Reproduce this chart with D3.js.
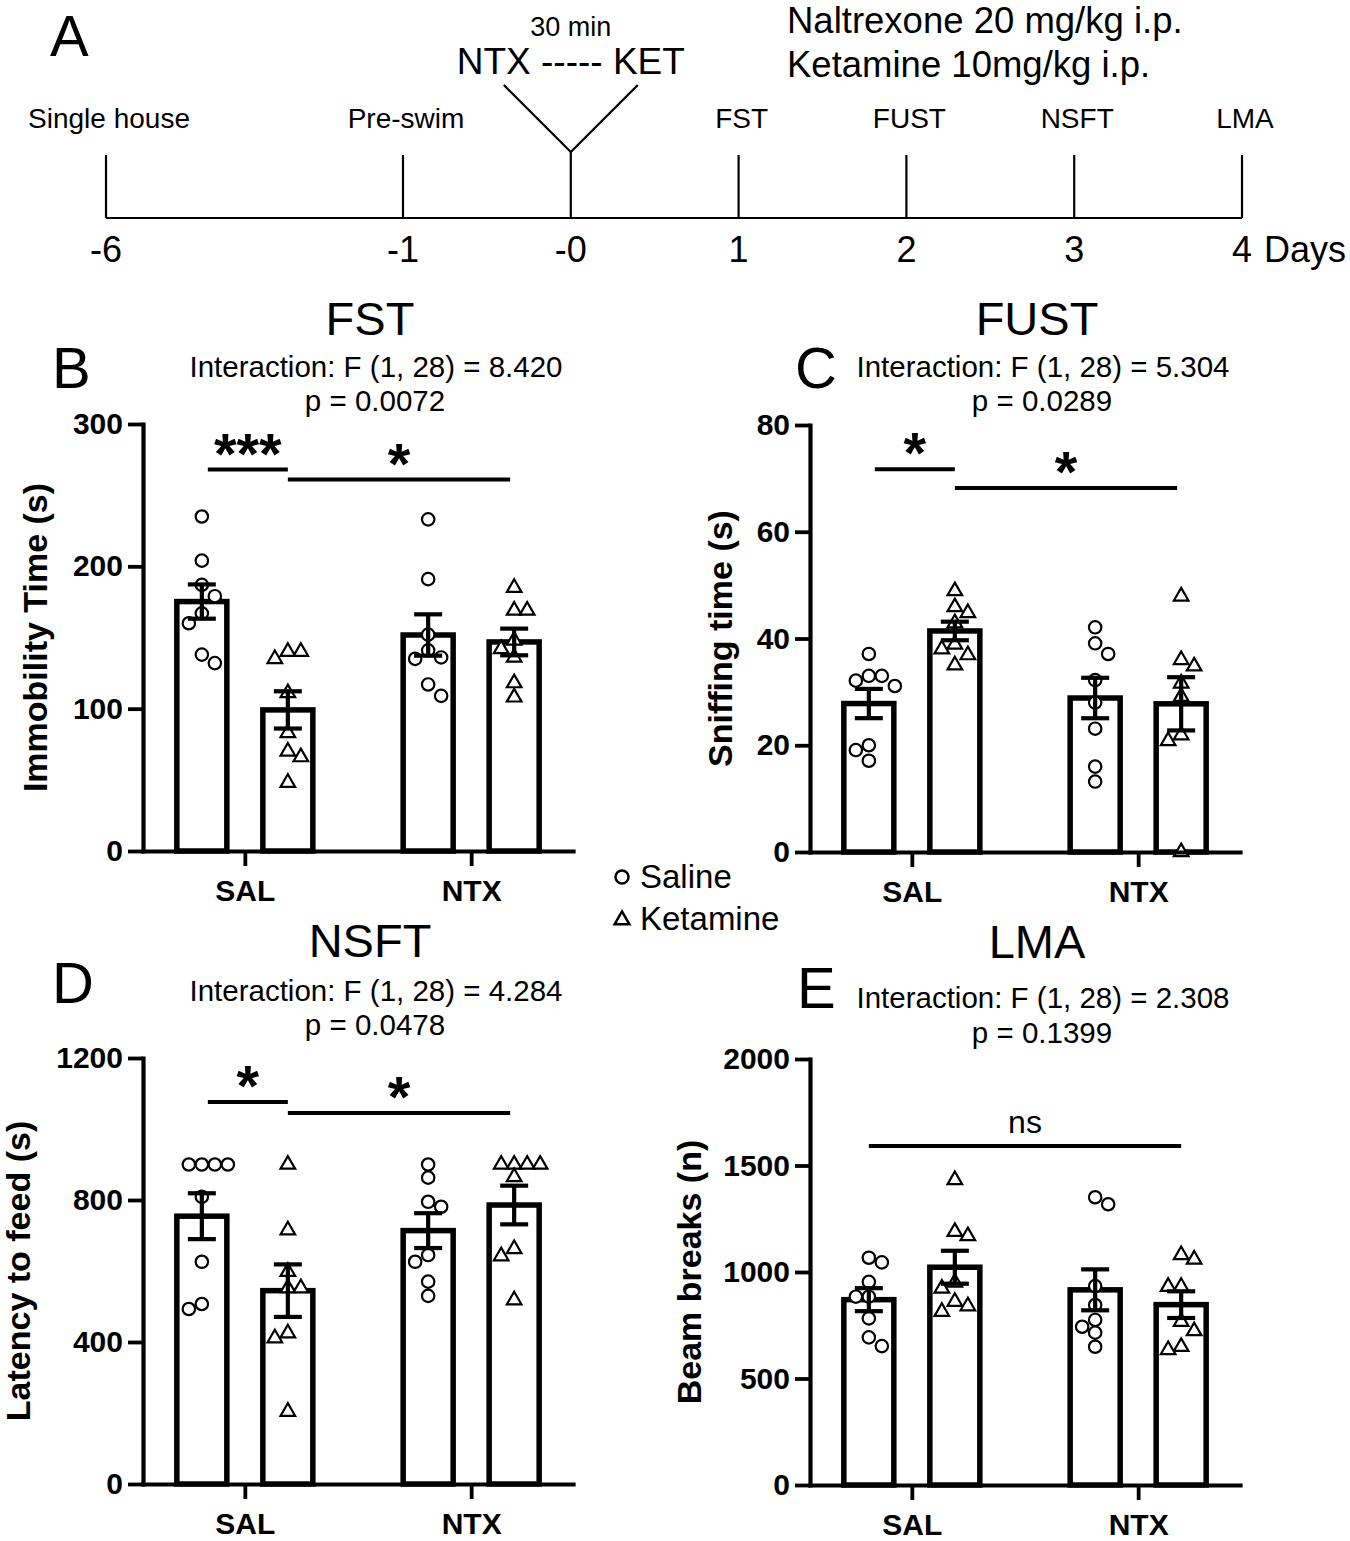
<!DOCTYPE html>
<html>
<head>
<meta charset="utf-8">
<script src="https://cdn.jsdelivr.net/npm/d3@7"></script>
<style>
  body { margin: 0; background: #fff; }
  text { font-family: "Liberation Sans", Arial, sans-serif; fill: #000; }
</style>
</head>
<body>
<script>
// ---- timeline (panel A) ----
var days = [-6, -1, 0, 1, 2, 3, 4];
var dayLabels = ["-6", "-1", "-0", "1", "2", "3", "4"];
var dayEvents = ["Single house", "Pre-swim", "", "FST", "FUST", "NSFT", "LMA"];
var drugLines = ["Naltrexone 20 mg/kg i.p.", "Ketamine 10mg/kg i.p."];

// ---- bar panels ----
var groups = ["SAL", "NTX"];
var treatments = ["Saline", "Ketamine"];

var fstSalSaline = [235, 204, 187, 179, 167, 160, 138, 132];
var fstSalKet    = [140, 135, 140, 111, 83, 70, 66, 48];
var fstNtxSaline = [233, 191, 152, 141, 135, 136, 117, 109];
var fstNtxKet    = [185, 169, 169, 148, 142, 136, 118, 108];

var fustSalSaline = [37.1, 33.0, 32.1, 33.0, 31.1, 20.0, 19.1, 17.1];
var fustSalKet    = [48.9, 44.8, 45.9, 42.9, 38.9, 38.0, 36.9, 35.0];
var fustNtxSaline = [42.1, 39.1, 37.1, 32.2, 28.0, 23.1, 16.0, 13.2];
var fustNtxKet    = [47.9, 36.0, 34.8, 31.6, 29.1, 21.9, 20.8, 0];

var nsftSalSaline = [900, 900, 900, 900, 809, 626, 493, 507];
var nsftSalKet    = [900, 715, 598, 552, 552, 425, 411, 204];
var nsftNtxSaline = [900, 863, 781, 795, 626, 645, 570, 530];
var nsftNtxKet    = [900, 900, 900, 900, 865, 662, 642, 518];

var lmaSalSaline = [1067, 1045, 954, 884, 884, 782, 693, 652];
var lmaSalKet    = [1432, 1189, 1169, 951, 923, 861, 840, 814];
var lmaNtxSaline = [1351, 1318, 934, 845, 775, 743, 715, 649];
var lmaNtxKet    = [1080, 1059, 931, 931, 767, 723, 649, 634];

var fstTicks = [0, 100, 200, 300];
var fustTicks = [0, 20, 40, 60, 80];
var nsftTicks = [0, 400, 800, 1200];
var lmaTicks = [0, 500, 1000, 1500, 2000];

var width = 1350, height = 1541;
var svg = d3.select("body").append("svg")
    .attr("width", width)
    .attr("height", height);

// ================= panel A =================
var tx = d3.scaleLinear().domain([-6, -1, 4]).range([106, 403, 1242]);
var lineY = 218, tickTop = 155;
var tl = svg.append("g").attr("stroke", "#000").attr("stroke-width", 2.2).attr("fill", "none");
tl.append("line").attr("x1", tx(-6)).attr("x2", tx(4)).attr("y1", lineY).attr("y2", lineY);
tl.selectAll("line.tk").data(days).enter().append("line")
    .attr("class", "tk")
    .attr("x1", d => tx(d)).attr("x2", d => tx(d))
    .attr("y1", d => d === 0 ? 152 : tickTop).attr("y2", lineY);
// the V for the two injections
tl.append("path")
    .attr("d", d3.line()([[tx(0) - 67, 85], [tx(0), 152], [tx(0) + 67, 85]]));

svg.selectAll("text.day").data(days).enter().append("text")
    .attr("class", "day")
    .attr("x", d => tx(d)).attr("y", 262)
    .attr("text-anchor", "middle")
    .attr("font-size", 36)
    .text((d, i) => dayLabels[i]);
svg.append("text").attr("x", tx(4) + 22).attr("y", 262)
    .attr("font-size", 36).text("Days");

svg.selectAll("text.ev").data(days).enter().append("text")
    .attr("class", "ev")
    .attr("x", d => tx(d) + 3).attr("y", 128)
    .attr("text-anchor", "middle")
    .attr("font-size", 28)
    .text((d, i) => dayEvents[i]);

svg.append("text").attr("x", tx(0)).attr("y", 36).attr("text-anchor", "middle")
    .attr("font-size", 27).text("30 min");
svg.append("text").attr("x", tx(0)).attr("y", 74).attr("text-anchor", "middle")
    .attr("font-size", 37).text("NTX ----- KET");
svg.selectAll("text.drug").data(drugLines).enter().append("text")
    .attr("class", "drug")
    .attr("x", 787).attr("y", (d, i) => 33 + i * 44)
    .attr("font-size", 36.5)
    .text(d => d);
svg.append("text").attr("x", 50).attr("y", 56).attr("font-size", 58).text("A");

// ================= bar panels =================
function sem(a) { return d3.deviation(a) / Math.sqrt(a.length); }

var panels = [
  { letter: "B", title: "FST", stat: "Interaction: F (1, 28) = 8.420", p: "p = 0.0072",
    ylabel: "Immobility Time (s)", left: 143, right: 573, top: 424, bottom: 851,
    ylabelX: 47, letterX: 52, letterY: 388, titleY: [335, 377, 411], ticks: fstTicks,
    data: [[fstSalSaline, fstSalKet], [fstNtxSaline, fstNtxKet]],
    sig: [{ a: [0, 0], b: [0, 1], y: 268, label: "***" }, { a: [0, 1], b: [1, 1], y: 261, label: "*" }] },
  { letter: "C", title: "FUST", stat: "Interaction: F (1, 28) = 5.304", p: "p = 0.0289",
    ylabel: "Sniffing time (s)", left: 810, right: 1240, top: 425, bottom: 852,
    ylabelX: 732, letterX: 795, letterY: 388, titleY: [335, 377, 411], ticks: fustTicks,
    data: [[fustSalSaline, fustSalKet], [fustNtxSaline, fustNtxKet]],
    sig: [{ a: [0, 0], b: [0, 1], y: 71.7, label: "*" }, { a: [0, 1], b: [1, 1], y: 68.2, label: "*" }] },
  { letter: "D", title: "NSFT", stat: "Interaction: F (1, 28) = 4.284", p: "p = 0.0478",
    ylabel: "Latency to feed (s)", left: 143, right: 573, top: 1058, bottom: 1484,
    ylabelX: 30, letterX: 52, letterY: 1003, titleY: [957, 1001, 1035], ticks: nsftTicks,
    data: [[nsftSalSaline, nsftSalKet], [nsftNtxSaline, nsftNtxKet]],
    sig: [{ a: [0, 0], b: [0, 1], y: 1076, label: "*" }, { a: [0, 1], b: [1, 1], y: 1045, label: "*" }] },
  { letter: "E", title: "LMA", stat: "Interaction: F (1, 28) = 2.308", p: "p = 0.1399",
    ylabel: "Beam breaks (n)", left: 810, right: 1240, top: 1059, bottom: 1485,
    ylabelX: 701, letterX: 797, letterY: 1008, titleY: [958, 1008, 1043], ticks: lmaTicks,
    data: [[lmaSalSaline, lmaSalKet], [lmaNtxSaline, lmaNtxKet]],
    sig: [{ a: [0, 0], b: [1, 1], y: 1592, label: "ns" }] }
];

var triangle = d3.symbol().type(d3.symbolTriangle).size(92);

// greedy scatter: keep a point on the centre line unless it would collide,
// then push it to alternating sides
function spread(values, y, step, minDist) {
  var idx = d3.range(values.length).sort((i, j) => values[j] - values[i]);
  var out = new Array(values.length);
  var placed = [];
  var lastSide = -1;
  idx.forEach(k => {
    var py = y(values[k]);
    var cands = [0];
    for (var m = 1; m <= 4; m++) cands.push(-lastSide * m * step, lastSide * m * step);
    var ox = cands.find(c => placed.every(p => Math.hypot(p[0] - c, p[1] - py) >= minDist));
    if (ox === undefined) ox = 0;
    if (ox !== 0) lastSide = Math.sign(ox);
    placed.push([ox, py]);
    out[k] = ox;
  });
  return out;
}

panels.forEach(function (cfg) {
  var g = svg.append("g");
  var y = d3.scaleLinear().domain([0, d3.max(cfg.ticks)]).range([cfg.bottom, cfg.top]);
  var x0 = d3.scalePoint().domain(groups).range([cfg.left, cfg.right]).padding(0.45).align(0.5);
  var x1 = d3.scalePoint().domain(treatments).range([-x0.step() * 0.19, x0.step() * 0.19]);
  var cx = (gi, ti) => x0(groups[gi]) + x1(treatments[ti]);
  var midX = (cfg.left + cfg.right) / 2;

  var cells = [];
  cfg.data.forEach((pair, gi) => pair.forEach((vals, ti) => {
    cells.push({ gi: gi, ti: ti, vals: vals, mean: d3.mean(vals), sem: sem(vals) });
  }));

  // bars
  g.selectAll("rect.bar").data(cells).enter().append("rect")
      .attr("x", d => cx(d.gi, d.ti) - 25)
      .attr("width", 50)
      .attr("y", d => y(d.mean))
      .attr("height", d => y(0) - y(d.mean))
      .attr("fill", "#fff").attr("stroke", "#000").attr("stroke-width", 5.5);

  // individual points
  cells.forEach(function (d) {
    var off = spread(d.vals, y, 13, 12);
    var pts = d.vals.map((v, i) => ({ x: cx(d.gi, d.ti) + off[i], y: y(v) }));
    if (d.ti === 0) {
      g.selectAll(null).data(pts).enter().append("circle")
          .attr("cx", p => p.x).attr("cy", p => p.y).attr("r", 6.2)
          .attr("fill", "#fff").attr("stroke", "#000").attr("stroke-width", 2.2);
    } else {
      g.selectAll(null).data(pts).enter().append("path")
          .attr("d", triangle)
          .attr("transform", p => "translate(" + p.x + "," + p.y + ")")
          .attr("fill", "#fff").attr("stroke", "#000").attr("stroke-width", 2.2);
    }
  });

  // error bars (mean +/- SEM)
  var eb = g.append("g").attr("stroke", "#000").attr("stroke-width", 4.2);
  cells.forEach(function (d) {
    var c = cx(d.gi, d.ti);
    eb.append("line").attr("x1", c).attr("x2", c)
        .attr("y1", y(d.mean - d.sem)).attr("y2", y(d.mean + d.sem));
    [d.mean - d.sem, d.mean + d.sem].forEach(v => {
      eb.append("line").attr("x1", c - 14).attr("x2", c + 14).attr("y1", y(v)).attr("y2", y(v));
    });
  });

  // axes
  var ya = g.append("g").attr("transform", "translate(" + cfg.left + ",0)")
      .call(d3.axisLeft(y).tickValues(cfg.ticks).tickFormat(d3.format("d"))
        .tickSize(15).tickSizeOuter(0).tickPadding(5));
  var xa = g.append("g").attr("transform", "translate(0," + cfg.bottom + ")")
      .call(d3.axisBottom(x0).tickSize(15).tickSizeOuter(0).tickPadding(6));
  [ya, xa].forEach(a => {
    a.select(".domain").attr("stroke-width", 4.2).attr("stroke-linecap", "square");
    a.selectAll(".tick line").attr("stroke-width", 3.8);
    a.selectAll(".tick text").attr("font-size", 30).attr("font-weight", "bold")
        .attr("font-family", "'Liberation Sans', Arial, sans-serif");
  });
  xa.selectAll(".tick text").attr("dy", "0.95em");

  // significance lines
  cfg.sig.forEach(function (s) {
    var xa1 = cx(s.a[0], s.a[1]) + (s.a[1] === 0 && s.label !== "ns" ? 6 : 0);
    var xb = cx(s.b[0], s.b[1]) - (s.b[0] === 1 && s.label !== "ns" ? 4 : 0);
    var ly = y(s.y);
    g.append("line").attr("x1", xa1).attr("x2", xb).attr("y1", ly).attr("y2", ly)
        .attr("stroke", "#000").attr("stroke-width", 4);
    if (s.label === "ns") {
      g.append("text").attr("x", (xa1 + xb) / 2).attr("y", ly - 13)
          .attr("text-anchor", "middle").attr("font-size", 32).text(s.label);
    } else {
      g.append("text").attr("x", (xa1 + xb) / 2).attr("y", ly + 4)
          .attr("text-anchor", "middle").attr("font-size", 58).attr("font-weight", "bold")
          .text(s.label);
    }
  });

  // titles
  g.append("text").attr("x", midX + 12).attr("y", cfg.titleY[0]).attr("text-anchor", "middle")
      .attr("font-size", 47).text(cfg.title);
  g.append("text").attr("x", midX + 18).attr("y", cfg.titleY[1]).attr("text-anchor", "middle")
      .attr("font-size", 29.5).text(cfg.stat);
  g.append("text").attr("x", midX + 17).attr("y", cfg.titleY[2]).attr("text-anchor", "middle")
      .attr("font-size", 29.5).text(cfg.p);
  g.append("text").attr("x", cfg.letterX).attr("y", cfg.letterY)
      .attr("font-size", 58).text(cfg.letter);
  g.append("text")
      .attr("transform", "translate(" + cfg.ylabelX + "," + ((cfg.top + cfg.bottom) / 2) + ") rotate(-90)")
      .attr("text-anchor", "middle")
      .attr("font-size", 34).attr("font-weight", "bold")
      .text(cfg.ylabel);
});

// legend
var lg = svg.append("g");
lg.append("circle").attr("cx", 622).attr("cy", 877).attr("r", 6.5)
    .attr("fill", "#fff").attr("stroke", "#000").attr("stroke-width", 2.5);
lg.append("path").attr("d", d3.symbol().type(d3.symbolTriangle).size(95))
    .attr("transform", "translate(622,920)")
    .attr("fill", "#fff").attr("stroke", "#000").attr("stroke-width", 2.5);
lg.selectAll("text").data(treatments).enter().append("text")
    .attr("x", 640).attr("y", (d, i) => 888 + i * 42)
    .attr("font-size", 33).text(d => d);
</script>
</body>
</html>
